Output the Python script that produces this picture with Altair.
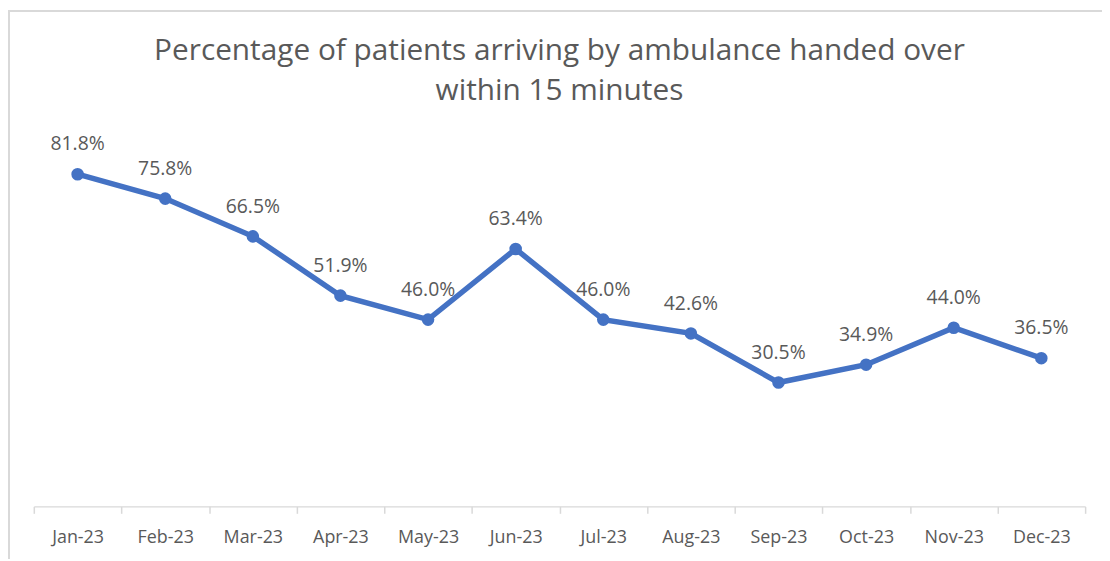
import altair as alt
import pandas as pd

months = ["Jan-23", "Feb-23", "Mar-23", "Apr-23", "May-23", "Jun-23",
          "Jul-23", "Aug-23", "Sep-23", "Oct-23", "Nov-23", "Dec-23"]
values = [81.8, 75.8, 66.5, 51.9, 46.0, 63.4, 46.0, 42.6, 30.5, 34.9, 44.0, 36.5]
title_lines = ["Percentage of patients arriving by ambulance handed over", "within 15 minutes"]

df = pd.DataFrame({"month": months, "value": values})
df["label"] = [f"{v:.1f}%" for v in values]

W, H = 1059, 409
BLUE = "#4472C4"
GREY = "#595959"
FONT = "Open Sans"

x = alt.X("month:N", sort=months, title=None,
          axis=alt.Axis(labelAngle=0, labelFontSize=18, labelColor=GREY, labelFont=FONT,
                        domainColor="#d9d9d9", domainWidth=1.5, tickColor="#d9d9d9", tickWidth=1.5,
                        tickSize=7, tickBand="extent", labelPadding=15, grid=False))
y = alt.Y("value:Q", scale=alt.Scale(domain=[0, 100], nice=False, zero=True), axis=None)

base = alt.Chart(df)
line = base.mark_line(color=BLUE, strokeWidth=5.5).encode(x=x, y=y)
pts = base.mark_circle(color=BLUE, size=160, opacity=1).encode(x=x, y=y)
labels = base.mark_text(dy=-30, fontSize=19.5, color=GREY, font=FONT, baseline="middle").encode(
    x=x, y=y, text="label:N")

border_left = alt.Chart(df).mark_rule(color="#d9d9d9", strokeWidth=2).encode(
    x=alt.value(-25), y=alt.value(-91), y2=alt.value(H + 53))
border_top = alt.Chart(df).mark_rule(color="#d9d9d9", strokeWidth=2).encode(
    x=alt.value(-26), x2=alt.value(W + 17), y=alt.value(-90))

title_df = pd.DataFrame({"t": title_lines, "row": [0, 1]})
title1 = alt.Chart(title_df).transform_filter("datum.row == 0").mark_text(
    fontSize=30, font=FONT, color=GREY, baseline="middle", align="center").encode(
    text="t:N", x=alt.value(W / 2), y=alt.value(-50))
title2 = alt.Chart(title_df).transform_filter("datum.row == 1").mark_text(
    fontSize=30, font=FONT, color=GREY, baseline="middle", align="center").encode(
    text="t:N", x=alt.value(W / 2), y=alt.value(-9))

chart = alt.layer(border_left, border_top, title1, title2, line, pts, labels).properties(
    width=W, height=H,
    padding={"left": 26, "top": 91, "right": 17, "bottom": 53},
    autosize=alt.AutoSizeParams(type="none"),
).configure_view(stroke=None)

chart.save("out.html", embed_options={"renderer": "svg", "actions": False})
